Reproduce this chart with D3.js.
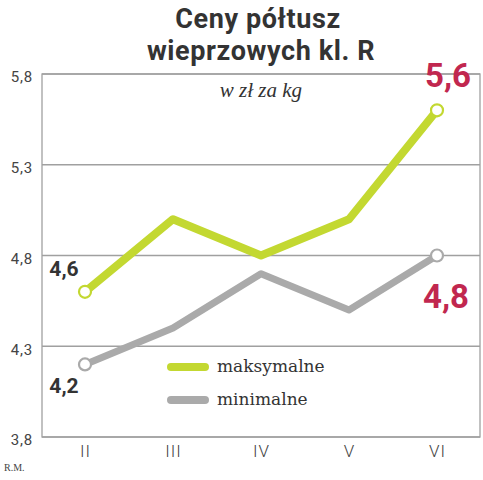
<!DOCTYPE html>
<html><head><meta charset="utf-8">
<script src="https://cdn.jsdelivr.net/npm/d3@7"></script>
<style>body{margin:0;background:#fff}</style>
</head><body>
<script>
const categories = ["II","III","IV","V","VI"];
const maxValues = [4.6, 5.0, 4.8, 5.0, 5.6];
const minValues = [4.2, 4.4, 4.7, 4.5, 4.8];
const yTicks = [3.8, 4.3, 4.8, 5.3, 5.8];
const seriesNames = ["maksymalne","minimalne"];

(function(){
const W = 483, H = 480;
const svg = d3.select("body").append("svg").attr("width", W).attr("height", H);
const pL = 42, pR = 480, pT = 74, pB = 437;
const x = d3.scalePoint().domain(categories).range([85, 437]);
const y = d3.scaleLinear().domain([3.8, 5.8]).range([pB, pT]);
const fmt = v => d3.format(".1f")(v).replace(".", ",");

// title
const title = svg.append("text").attr("text-anchor","middle")
  .attr("font-family","Roboto, sans-serif").attr("font-weight","bold")
  .attr("font-size",27).attr("letter-spacing",0.6).attr("fill","#333");
title.append("tspan").attr("x",258).attr("y",28).text("Ceny półtusz");
title.append("tspan").attr("x",261).attr("y",60).text("wieprzowych kl. R");

// grid
svg.append("g").selectAll("line").data(yTicks).join("line")
  .attr("x1", pL).attr("x2", pR).attr("y1", d=>y(d)).attr("y2", d=>y(d))
  .attr("stroke","#a0a0a0").attr("stroke-width",1.3);
svg.append("rect").attr("x",pL).attr("y",pT).attr("width",pR-pL).attr("height",pB-pT)
  .attr("fill","none").attr("stroke","#a0a0a0").attr("stroke-width",1.3);

// y axis labels
const yAxis = d3.axisLeft(y).tickValues(yTicks).tickFormat(fmt).tickSize(0).tickPadding(9);
const ga = svg.append("g").attr("transform",`translate(${pL},3)`).call(yAxis);
ga.select(".domain").remove();
ga.selectAll("text").attr("font-family","Roboto, sans-serif").attr("font-size",15)
  .attr("letter-spacing",0.8).attr("fill","#444");

// x axis labels
const xAxis = d3.axisBottom(x).tickSize(0).tickPadding(8);
const gx = svg.append("g").attr("transform",`translate(0,${pB})`).call(xAxis);
gx.select(".domain").remove();
gx.selectAll("text").attr("font-family","Roboto, sans-serif").attr("font-size",17)
  .attr("font-weight",300).attr("letter-spacing",1).attr("fill","#444");

// subtitle
svg.append("text").attr("x",261).attr("y",97).attr("text-anchor","middle")
  .attr("font-family","Liberation Serif, serif").attr("font-style","italic")
  .attr("font-size",21).attr("fill","#333").text("w zł za kg");

const line = d3.line().x((d,i)=>x(categories[i])).y(d=>y(d));
const series = [
  {name: seriesNames[0], values: maxValues, color: "#c3d831", w: 8},
  {name: seriesNames[1], values: minValues, color: "#aaaaaa", w: 7}
];
series.slice().reverse().forEach(s => {
  svg.append("path").datum(s.values).attr("d", line).attr("fill","none")
    .attr("stroke", s.color).attr("stroke-width", s.w).attr("stroke-linejoin","round");
});
series.forEach(s => {
  [0, s.values.length-1].forEach(i => {
    svg.append("circle").attr("cx", x(categories[i])).attr("cy", y(s.values[i])).attr("r",6)
      .attr("fill","#fff").attr("stroke", s.color).attr("stroke-width",2.2);
  });
});

// value labels
function lab(xx, yy, txt, color, size){
  svg.append("text").attr("x",xx).attr("y",yy).attr("text-anchor","middle")
    .attr("font-family","Roboto, sans-serif").attr("font-weight","bold")
    .attr("font-size",size).attr("fill",color).text(txt);
}
lab(x(categories[0]) - 21, y(maxValues[0]) - 15.5, fmt(maxValues[0]), "#333", 21);
lab(x(categories[0]) - 21, y(minValues[0]) + 28.6, fmt(minValues[0]), "#333", 21);
lab(x(categories[4]) + 11, y(maxValues[4]) - 23, fmt(maxValues[4]), "#c1274f", 33);
lab(x(categories[4]) + 9, y(minValues[4]) + 52.5, fmt(minValues[4]), "#c1274f", 33);

// legend
series.forEach((s,i) => {
  const ly = 367 + i*33;
  svg.append("line").attr("x1",171).attr("x2",205).attr("y1",ly).attr("y2",ly)
    .attr("stroke", s.color).attr("stroke-width",8).attr("stroke-linecap","round");
  svg.append("text").attr("x",217).attr("y",ly+5).attr("font-family","DejaVu Serif, serif")
    .attr("font-size",17).attr("fill","#333").text(s.name);
});

svg.append("text").attr("x",4).attr("y",471).attr("font-family","Liberation Serif, serif")
  .attr("font-size",10).attr("fill","#444").text("R.M.");
})();
</script>
</body></html>
